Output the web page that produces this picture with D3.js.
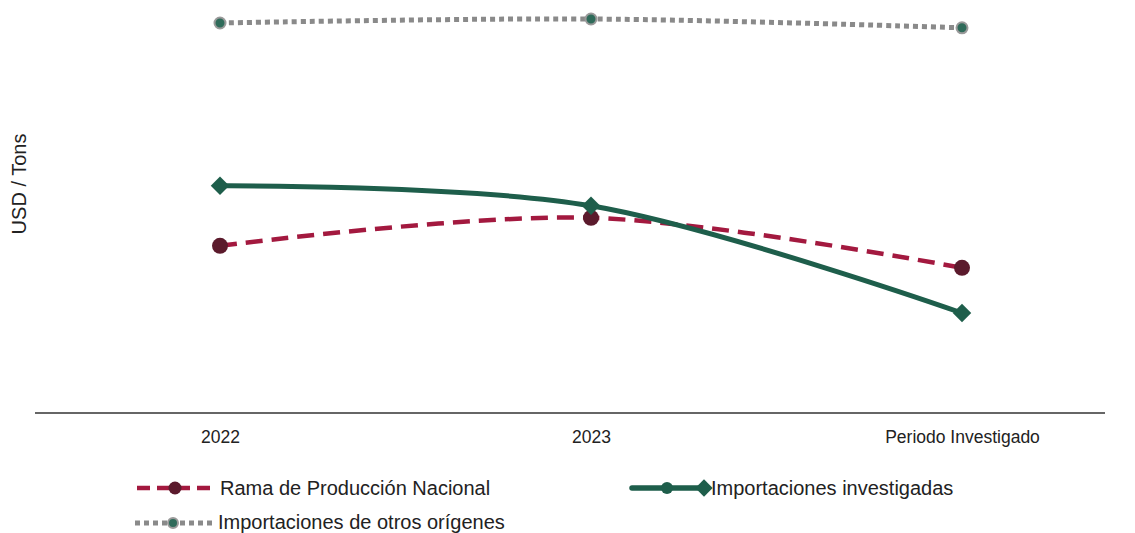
<!DOCTYPE html>
<html>
<head>
<meta charset="utf-8">
<script src="https://cdn.jsdelivr.net/npm/d3@7"></script>
<style>
  body { margin: 0; background: #fff; }
  text { font-family: "Liberation Sans", Arial, sans-serif; fill: #222; }
</style>
</head>
<body>
<svg id="chart" width="1135" height="533"></svg>
<script>
// periods and values (relative price index)
var periods = ["2022", "2023", "Periodo Investigado"];
var ramaNacional = [41.8, 48.8, 36.3];
var importInvestigadas = [56.8, 51.8, 25.0];
var importOtros = [97.5, 98.5, 96.3];

var svg = d3.select("#chart");

var x = d3.scalePoint().domain(periods).range([220, 962]);
var y = d3.scaleLinear().domain([0, 100]).range([413, 13]);

// axis line
svg.append("line")
    .attr("x1", 35).attr("x2", 1105)
    .attr("y1", y(0)).attr("y2", y(0))
    .attr("stroke", "#333").attr("stroke-width", 1.5);

var xAxis = d3.axisBottom(x).tickSize(0).tickPadding(18);
var gx = svg.append("g").attr("transform", "translate(0," + y(0) + ")").call(xAxis);
gx.select(".domain").remove();
gx.selectAll("text").style("font-size", "17.5px").style("font-family", "Liberation Sans, Arial, sans-serif").attr("fill", "#222");

// y label
svg.append("text")
    .attr("transform", "translate(26,184) rotate(-90)")
    .attr("text-anchor", "middle")
    .style("font-size", "20px")
    .text("USD / Tons");

var line = d3.line()
    .x(function(d, i){ return x(periods[i]); })
    .y(function(d){ return y(d); })
    .curve(d3.curveCatmullRom.alpha(0.5));

// otros origenes - grey dotted
svg.append("path").datum(importOtros)
    .attr("d", line).attr("fill", "none")
    .attr("stroke", "#8a8a8a").attr("stroke-width", 5)
    .attr("stroke-dasharray", "5,4");

svg.selectAll(".otros").data(importOtros).enter().append("circle")
    .attr("cx", function(d, i){ return x(periods[i]); })
    .attr("cy", function(d){ return y(d); })
    .attr("r", 5.5)
    .attr("fill", "#2f6b5a").attr("stroke", "#9a9a9a").attr("stroke-width", 2);

// rama nacional - crimson dashed
svg.append("path").datum(ramaNacional)
    .attr("d", line).attr("fill", "none")
    .attr("stroke", "#a3193f").attr("stroke-width", 4.5)
    .attr("stroke-dasharray", "17,9");

svg.selectAll(".rama").data(ramaNacional).enter().append("circle")
    .attr("cx", function(d, i){ return x(periods[i]); })
    .attr("cy", function(d){ return y(d); })
    .attr("r", 8)
    .attr("fill", "#5b1a2c");

// importaciones investigadas - green solid
svg.append("path").datum(importInvestigadas)
    .attr("d", line).attr("fill", "none")
    .attr("stroke", "#1e5e4b").attr("stroke-width", 5);

var diamond = d3.symbol().type(d3.symbolSquare).size(170);
svg.selectAll(".inv").data(importInvestigadas).enter().append("path")
    .attr("d", diamond)
    .attr("transform", function(d, i){ return "translate(" + x(periods[i]) + "," + y(d) + ") rotate(45)"; })
    .attr("fill", "#1e5e4b");

// legend
var lg = svg.append("g");
// rama
lg.append("line").attr("x1", 137).attr("x2", 214).attr("y1", 488).attr("y2", 488)
    .attr("stroke", "#a3193f").attr("stroke-width", 4.5).attr("stroke-dasharray", "13,7");
lg.append("circle").attr("cx", 175).attr("cy", 488).attr("r", 6.5).attr("fill", "#5b1a2c");
lg.append("text").attr("x", 220).attr("y", 495).style("font-size", "20px").text("Rama de Producción Nacional");
// investigadas
lg.append("line").attr("x1", 632).attr("x2", 703).attr("y1", 488).attr("y2", 488)
    .attr("stroke", "#1e5e4b").attr("stroke-width", 5.5).attr("stroke-linecap", "round");
lg.append("circle").attr("cx", 667).attr("cy", 488).attr("r", 6).attr("fill", "#1e5e4b");
lg.append("path").attr("d", d3.symbol().type(d3.symbolSquare).size(150))
    .attr("transform", "translate(704,488) rotate(45)").attr("fill", "#1e5e4b");
lg.append("text").attr("x", 711).attr("y", 495).style("font-size", "20px").text("Importaciones investigadas");
// otros
lg.append("line").attr("x1", 135).attr("x2", 213).attr("y1", 523).attr("y2", 523)
    .attr("stroke", "#8a8a8a").attr("stroke-width", 5).attr("stroke-dasharray", "5,4");
lg.append("circle").attr("cx", 173).attr("cy", 523).attr("r", 5)
    .attr("fill", "#2f6b5a").attr("stroke", "#9a9a9a").attr("stroke-width", 2);
lg.append("text").attr("x", 218).attr("y", 529).style("font-size", "20px").text("Importaciones de otros orígenes");
</script>
</body>
</html>
